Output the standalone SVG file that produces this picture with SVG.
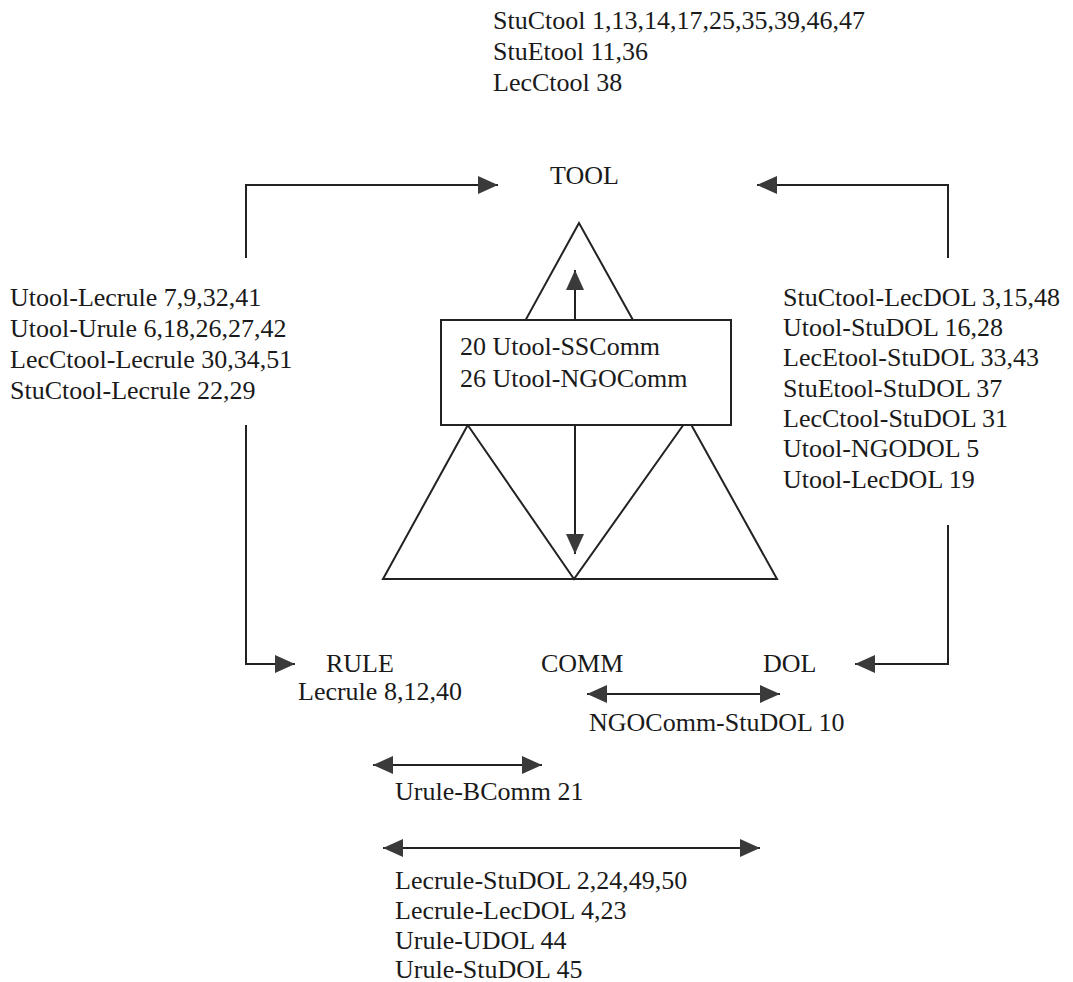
<svg xmlns="http://www.w3.org/2000/svg" width="1073" height="982" viewBox="0 0 1073 982">
<defs>
<style>
text{font-family:"Liberation Serif","Times New Roman",serif;font-size:26px;fill:#1a1a1a}
.ln{fill:none;stroke:#222;stroke-width:2}
</style>
<marker id="ah" markerUnits="userSpaceOnUse" markerWidth="22" markerHeight="20" refX="20" refY="9" orient="auto-start-reverse" viewBox="0 0 22 18">
<path d="M0,0 L20,9 L0,18 z" fill="#3a3a3a"/>
</marker>
</defs>
<rect width="1073" height="982" fill="#fff"/>
<g id="tool-notes">
<text x="493" y="29">StuCtool 1,13,14,17,25,35,39,46,47</text>
<text x="493" y="60">StuEtool 11,36</text>
<text x="493" y="91">LecCtool 38</text>
</g>
<g id="tool"><text x="550" y="184">TOOL</text></g>
<g id="rule"><text x="326" y="672">RULE</text><text x="298" y="700">Lecrule 8,12,40</text></g>
<g id="comm"><text x="541" y="672">COMM</text></g>
<g id="dol"><text x="763" y="672">DOL</text></g>
<g id="left-notes">
<text x="10" y="306">Utool-Lecrule 7,9,32,41</text>
<text x="10" y="337">Utool-Urule 6,18,26,27,42</text>
<text x="10" y="368">LecCtool-Lecrule 30,34,51</text>
<text x="10" y="399">StuCtool-Lecrule 22,29</text>
</g>
<g id="right-notes">
<text x="783" y="306">StuCtool-LecDOL 3,15,48</text>
<text x="783" y="336">Utool-StuDOL 16,28</text>
<text x="783" y="366">LecEtool-StuDOL 33,43</text>
<text x="783" y="397">StuEtool-StuDOL 37</text>
<text x="783" y="427">LecCtool-StuDOL 31</text>
<text x="783" y="457">Utool-NGODOL 5</text>
<text x="783" y="488">Utool-LecDOL 19</text>
</g>
<g id="triangle">
<polygon class="ln" points="579,223 383,579 777,579"/>
<polyline class="ln" points="467,424 574,579 684,424"/>
</g>
<g id="comm-box">
<rect x="441" y="320" width="290" height="105" fill="#fff" stroke="#222" stroke-width="2"/>
<text x="460" y="355">20 Utool-SSComm</text>
<text x="460" y="387">26 Utool-NGOComm</text>
</g>
<g id="connectors">
<polyline class="ln" points="246,258 246,185 498,185" marker-end="url(#ah)"/>
<polyline class="ln" points="948,258 948,185 757,185" marker-end="url(#ah)"/>
<polyline class="ln" points="246,425 246,664 295,664" marker-end="url(#ah)"/>
<polyline class="ln" points="948,525 948,664 855,664" marker-end="url(#ah)"/>
<line class="ln" x1="575" y1="320" x2="575" y2="270" marker-end="url(#ah)"/>
<line class="ln" x1="575" y1="425" x2="575" y2="554" marker-end="url(#ah)"/>
<line class="ln" x1="587" y1="694" x2="780" y2="694" marker-start="url(#ah)" marker-end="url(#ah)"/>
<line class="ln" x1="373" y1="765" x2="542" y2="765" marker-start="url(#ah)" marker-end="url(#ah)"/>
<line class="ln" x1="383" y1="848" x2="760" y2="848" marker-start="url(#ah)" marker-end="url(#ah)"/>
</g>
<g id="edge-labels">
<text x="589" y="731">NGOComm-StuDOL 10</text>
<text x="395" y="800">Urule-BComm 21</text>
<text x="395" y="889">Lecrule-StuDOL 2,24,49,50</text>
<text x="395" y="919">Lecrule-LecDOL 4,23</text>
<text x="395" y="949">Urule-UDOL 44</text>
<text x="395" y="978">Urule-StuDOL 45</text>
</g>
</svg>
